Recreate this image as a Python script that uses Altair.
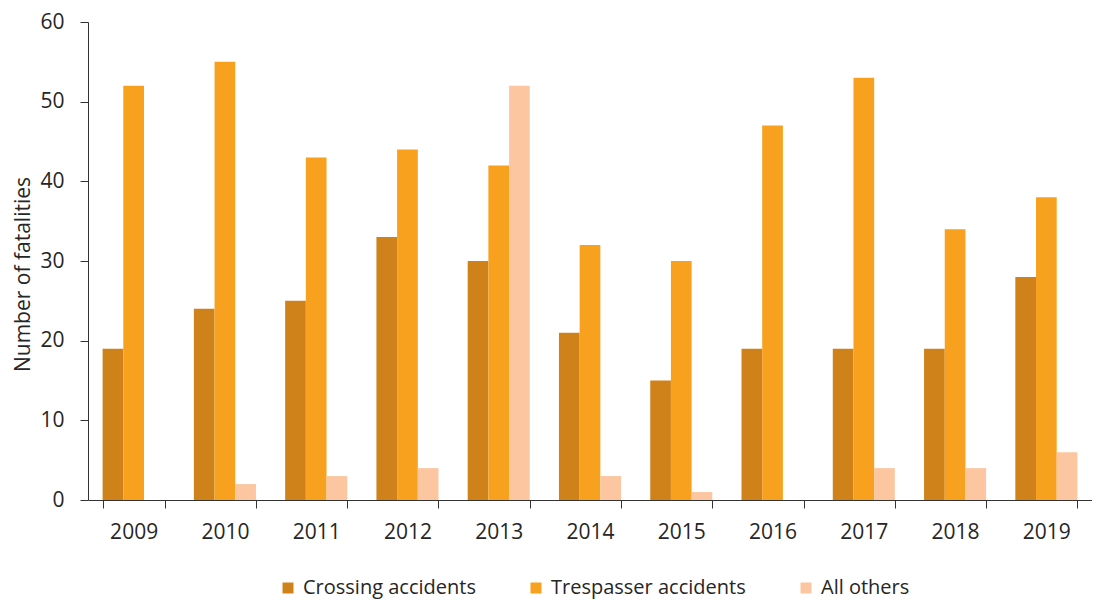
import altair as alt
import pandas as pd

years = ["2009", "2010", "2011", "2012", "2013", "2014", "2015", "2016", "2017", "2018", "2019"]
crossing = [19, 24, 25, 33, 30, 21, 15, 19, 19, 19, 28]
trespasser = [52, 55, 43, 44, 42, 32, 30, 47, 53, 34, 38]
others = [0, 2, 3, 4, 52, 3, 1, 0, 4, 4, 6]
series = ["Crossing accidents", "Trespasser accidents", "All others"]
colors = ["#D0821A", "#F7A11E", "#FBC6A0"]

rows = []
for i, y in enumerate(years):
    for s, vals in zip(series, [crossing, trespasser, others]):
        rows.append({"year": y, "series": s, "value": vals[i]})
df = pd.DataFrame(rows)

FONT = "Open Sans"
TXT = "#262626"

chart = alt.Chart(df).mark_bar().encode(
    x=alt.X("year:N", sort=years, title=None,
            scale=alt.Scale(paddingInner=0.32, paddingOuter=0.16),
            axis=alt.Axis(labelAngle=0, tickBand="extent", tickSize=8, labelPadding=13,
                          labelFontSize=21, labelFont=FONT, labelColor=TXT,
                          domainColor="#333333", tickColor="#333333", grid=False)),
    xOffset=alt.XOffset("series:N", sort=series),
    y=alt.Y("value:Q", title="Number of fatalities",
            scale=alt.Scale(domain=[0, 60]),
            axis=alt.Axis(values=[0, 10, 20, 30, 40, 50, 60], tickSize=8, labelPadding=16,
                          labelFontSize=21, labelFont=FONT, labelColor=TXT,
                          titleFont=FONT, titleFontSize=21, titleFontWeight="normal",
                          titleColor=TXT, titlePadding=6, titleY=252,
                          domainColor="#333333", tickColor="#333333", grid=False)),
    color=alt.Color("series:N", sort=series,
                    scale=alt.Scale(domain=series, range=colors),
                    legend=alt.Legend(title=None, orient="none", direction="horizontal",
                                      legendX=190, legendY=556,
                                      symbolType="square", symbolSize=121,
                                      labelFontSize=20, labelFont=FONT, labelColor=TXT,
                                      labelLimit=400,
                                      columnPadding=50, labelOffset=5)),
).properties(
    width=1004, height=478,
    autosize=alt.AutoSizeParams(type="none"),
    padding={"left": 80, "top": 14, "right": 0, "bottom": 104},
).configure_view(stroke=None)

chart.save("out.html", embed_options={"renderer": "svg", "actions": False})
